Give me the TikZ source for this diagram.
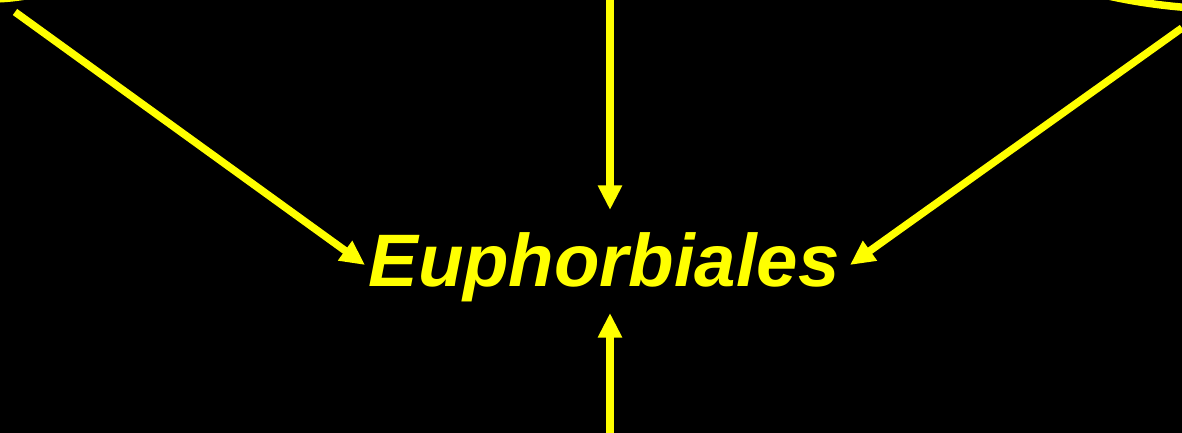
\documentclass[tikz,border=0pt]{standalone}
\usepackage{fontspec}
\setmainfont{Liberation Sans}
\usetikzlibrary{arrows.meta}
\definecolor{signyellow}{RGB}{255,255,0}
\tikzset{
    pointer/.style={draw=signyellow, line width=6.4pt,
        -{Triangle[length=21pt,width=19.5pt]}},
    rim/.style={draw=signyellow, line width=6.4pt},
    order/.style={text=signyellow, inner sep=0pt,
        font=\fontsize{63.5}{72}\selectfont\bfseries\itshape}
}
\begin{document}
\begin{tikzpicture}
    % Black background and frame
    \fill[black] (0,0) rectangle (35.46,12.99);
    \useasboundingbox (0,0) rectangle (35.46,12.99);
    % Edges of the boxes beyond the frame
    \begin{scope}
        \clip (0,0) rectangle (35.46,12.99);
        \draw[rim] (-0.3,18.99) ellipse (6.06 and 5.97);
        \draw[rim] (37.2,16.2) ellipse (8.4 and 3.5);
    \end{scope}
    % Centre label
    \node[order, anchor=base] (eup) at (18.12,4.38) {Euphorbiales};
    % Free ends of the arrows
    \coordinate (fromleft) at (0.45,12.63);
    \coordinate (fromtop) at (18.3,12.99);
    \coordinate (fromright) at (35.46,12.15);
    \coordinate (frombelow) at (18.3,0);
    \coordinate (toleft) at (10.95,5.04);
    \coordinate (totop) at (18.3,6.69);
    \coordinate (toright) at (25.5,5.04);
    \coordinate (tobelow) at (18.3,3.6);
    \draw[pointer] (fromleft) -- (toleft);
    \draw[pointer] (fromtop) -- (totop);
    \draw[pointer] (fromright) -- (toright);
    \draw[pointer] (frombelow) -- (tobelow);
\end{tikzpicture}
\end{document}
